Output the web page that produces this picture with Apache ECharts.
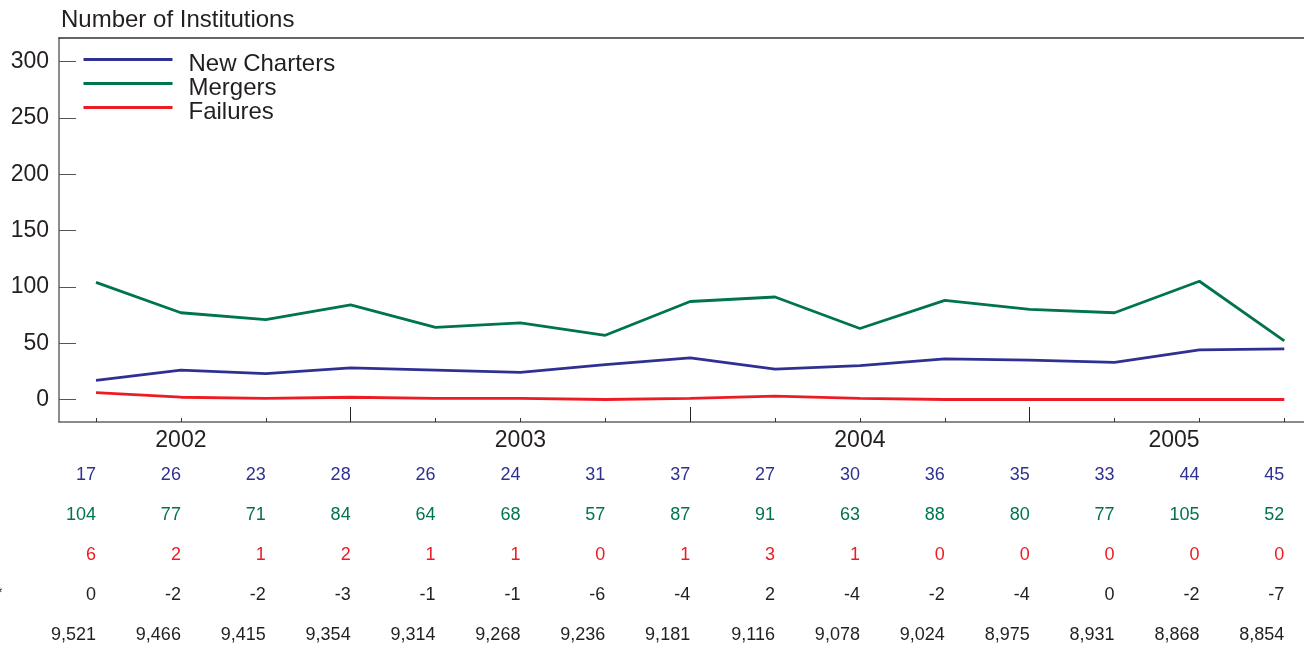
<!DOCTYPE html>
<html>
<head>
<meta charset="utf-8">
<script src="https://cdn.jsdelivr.net/npm/echarts@6/dist/echarts.min.js"></script>
<style>
html, body { margin: 0; padding: 0; background: #fff; }
#chart { width: 1304px; height: 651px; }
</style>
</head>
<body>
<div id="chart"></div>
<script>
// quarterly data, 15 quarters
var quarters = [0, 1, 2, 3, 4, 5, 6, 7, 8, 9, 10, 11, 12, 13, 14];
var newCharters = [17, 26, 23, 28, 26, 24, 31, 37, 27, 30, 36, 35, 33, 44, 45];
var mergers = [104, 77, 71, 84, 64, 68, 57, 87, 91, 63, 88, 80, 77, 105, 52];
var failures = [6, 2, 1, 2, 1, 1, 0, 1, 3, 1, 0, 0, 0, 0, 0];
var netOther = [0, -2, -2, -3, -1, -1, -6, -4, 2, -4, -2, -4, 0, -2, -7];
var totalInst = [9521, 9466, 9415, 9354, 9314, 9268, 9236, 9181, 9116, 9078, 9024, 8975, 8931, 8868, 8854];
var years = ['2002', '2003', '2004', '2005'];
var yearTickAt = [1, 5, 9, 12.7];
var yearBreaks = [3, 7, 11];
var yTicks = [0, 50, 100, 150, 200, 250, 300];

var BLUE = '#2e3192', GREEN = '#00744a', RED = '#ed1c24', INK = '#231f20';
var FONT = 'Liberation Sans';
var XMIN = -0.436, XMAX = 14.232;

function pairs(arr) {
    return arr.map(function (v, i) { return [quarters[i], v]; });
}

// one hidden x axis per row of the table below the chart
function rowAxis(values, color, offset) {
    return {
        type: 'value', min: XMIN, max: XMAX, position: 'bottom', offset: offset,
        axisLine: { show: false, onZero: false }, axisTick: { show: false }, splitLine: { show: false },
        axisLabel: {
            customValues: quarters, margin: 0, align: 'right',
            color: color, fontFamily: FONT, fontSize: 18, lineHeight: 18,
            formatter: function (v) {
                var n = values[Math.round(v)];
                return n >= 1000 ? n.toLocaleString('en-US') : String(n);
            }
        }
    };
}

var myChart = echarts.init(document.getElementById('chart'));
var option = {
    animation: false,
    textStyle: { fontFamily: FONT },
    title: {
        text: 'Number of Institutions', left: 56, top: 3,
        textStyle: { fontFamily: FONT, fontSize: 24, fontWeight: 'normal', color: INK }
    },
    legend: {
        orient: 'vertical', left: 82, top: 43, padding: 0,
        itemWidth: 89, itemHeight: 24, itemGap: -9,
        itemStyle: { opacity: 0 },
        lineStyle: { width: 3 },
        // left padding widens the gap between line and name
        formatter: function (name) { return '{t|' + name + '}'; },
        textStyle: {
            fontFamily: FONT, fontSize: 24, color: INK,
            rich: { t: { fontFamily: FONT, fontSize: 24, color: INK, lineHeight: 15, padding: [9, 0, 0, 11] } }
        },
        data: ['New Charters', 'Mergers', 'Failures']
    },
    grid: { left: 59, right: 0, top: 38, bottom: 229, containLabel: false, outerBoundsMode: 'none' },
    xAxis: [
        {
            type: 'value', min: XMIN, max: XMAX, position: 'bottom',
            axisLine: { onZero: false, lineStyle: { color: '#666', width: 1.5 } },
            axisTick: { customValues: quarters, inside: true, length: 4, lineStyle: { color: '#333' } },
            splitLine: { show: false },
            axisLabel: {
                customValues: yearTickAt, margin: 7, color: INK, fontFamily: FONT, fontSize: 23, lineHeight: 23,
                formatter: function (v) { return years[yearTickAt.indexOf(v)]; }
            }
        },
        {
            type: 'value', min: XMIN, max: XMAX, position: 'bottom',
            axisLine: { show: false, onZero: false }, splitLine: { show: false }, axisLabel: { show: false },
            axisTick: { customValues: yearBreaks, inside: true, length: 15, lineStyle: { color: '#222' } }
        },
        {
            type: 'value', min: XMIN, max: XMAX, position: 'top',
            axisLine: { onZero: false, lineStyle: { color: '#333', width: 1.5 } },
            axisTick: { show: false }, axisLabel: { show: false }, splitLine: { show: false }
        },
        rowAxis(newCharters, BLUE, 44),
        rowAxis(mergers, GREEN, 84),
        rowAxis(failures, RED, 124),
        rowAxis(netOther, INK, 164),
        rowAxis(totalInst, INK, 204)
    ],
    yAxis: {
        type: 'value', min: -20, max: 321,
        axisLine: { show: true, onZero: false, lineStyle: { color: '#666', width: 1.5 } },
        axisTick: { customValues: yTicks, inside: true, length: 17, lineStyle: { color: '#555' } },
        splitLine: { show: false },
        axisLabel: { customValues: yTicks, margin: 10, color: INK, fontFamily: FONT, fontSize: 23 }
    },
    graphic: [
        { type: 'text', left: -3, top: 586, style: { text: '*', fontSize: 14, fill: INK, fontFamily: FONT } }
    ],
    series: [
        { name: 'New Charters', type: 'line', symbol: 'none', data: pairs(newCharters), lineStyle: { color: BLUE, width: 2.8 }, itemStyle: { color: BLUE } },
        { name: 'Mergers', type: 'line', symbol: 'none', data: pairs(mergers), lineStyle: { color: GREEN, width: 2.8 }, itemStyle: { color: GREEN } },
        { name: 'Failures', type: 'line', symbol: 'none', data: pairs(failures), lineStyle: { color: RED, width: 2.8 }, itemStyle: { color: RED } }
    ]
};
option && myChart.setOption(option);
</script>
</body>
</html>
